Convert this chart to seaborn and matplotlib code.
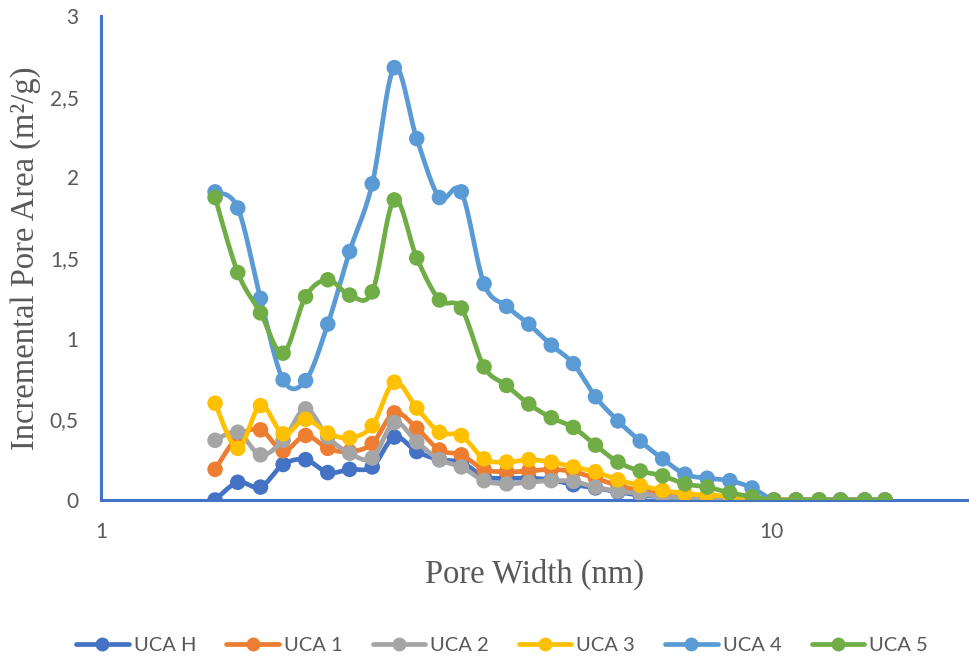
import numpy as np
import pandas as pd
import matplotlib
matplotlib.use("Agg")
import matplotlib.pyplot as plt
from matplotlib.lines import Line2D
from matplotlib.ticker import FuncFormatter, FixedLocator, NullLocator
import seaborn as sns

# Pore widths (nm)
pore_width = [1.48, 1.60, 1.73, 1.87, 2.02, 2.18, 2.35, 2.54, 2.74, 2.96,
              3.20, 3.45, 3.73, 4.03, 4.35, 4.70, 5.07, 5.47, 5.91, 6.38,
              6.89, 7.44, 8.03, 8.68, 9.37, 10.1, 10.9, 11.8, 12.7, 13.8, 14.8]

# Incremental pore area (m2/g) per sample
uca_h = [0.00, 0.11, 0.08, 0.22, 0.25, 0.17, 0.19, 0.205, 0.39, 0.30,
         0.25, 0.235, 0.145, 0.135, 0.135, 0.125, 0.095, 0.075, 0.05, 0.03,
         0.02, 0.01, 0.005, 0.0, 0.0, 0.0, 0.0, 0.0, 0.0, 0.0, 0.0]
uca_1 = [0.19, 0.39, 0.435, 0.305, 0.40, 0.32, 0.30, 0.35, 0.54, 0.445,
         0.31, 0.28, 0.19, 0.175, 0.18, 0.19, 0.175, 0.135, 0.09, 0.06,
         0.045, 0.03, 0.025, 0.02, 0.01, 0.0, 0.0, 0.0, 0.0, 0.0, 0.0]
uca_2 = [0.37, 0.42, 0.28, 0.37, 0.565, 0.39, 0.29, 0.26, 0.48, 0.36,
         0.25, 0.205, 0.12, 0.10, 0.11, 0.12, 0.115, 0.08, 0.055, 0.04,
         0.02, 0.015, 0.01, 0.005, 0.0, 0.0, 0.0, 0.0, 0.0, 0.0, 0.0]
uca_3 = [0.60, 0.32, 0.585, 0.41, 0.50, 0.415, 0.385, 0.46, 0.73, 0.57,
         0.42, 0.40, 0.255, 0.235, 0.25, 0.235, 0.205, 0.175, 0.125, 0.09,
         0.06, 0.04, 0.03, 0.025, 0.01, 0.0, 0.0, 0.0, 0.0, 0.0, 0.0]
uca_4 = [1.91, 1.81, 1.25, 0.745, 0.74, 1.09, 1.54, 1.96, 2.68, 2.24,
         1.875, 1.91, 1.34, 1.20, 1.09, 0.96, 0.845, 0.64, 0.49, 0.365,
         0.255, 0.16, 0.135, 0.12, 0.075, 0.0, 0.0, 0.0, 0.0, 0.0, 0.0]
uca_5 = [1.875, 1.41, 1.16, 0.91, 1.26, 1.365, 1.27, 1.29, 1.86, 1.50,
         1.24, 1.19, 0.825, 0.71, 0.595, 0.51, 0.45, 0.34, 0.235, 0.18,
         0.15, 0.10, 0.08, 0.045, 0.02, 0.0, 0.0, 0.0, 0.0, 0.0, 0.0]

series_names = ["UCA H", "UCA 1", "UCA 2", "UCA 3", "UCA 4", "UCA 5"]
series_values = [uca_h, uca_1, uca_2, uca_3, uca_4, uca_5]
series_colors = ["#4472C4", "#ED7D31", "#A5A5A5", "#FFC000", "#5B9BD5", "#70AD47"]

x_ticks = [1, 10]
y_ticks = [0, 0.5, 1, 1.5, 2, 2.5, 3]


def smooth_curve(xs, ys, steps=24):
    """Cubic Bezier smoothing through every point (log-x space)."""
    lx = np.log10(np.asarray(xs, dtype=float))
    y = np.asarray(ys, dtype=float)
    pts = np.column_stack([lx, y])
    n = len(pts)
    out = []
    t = np.linspace(0, 1, steps, endpoint=False)[:, None]
    for i in range(n - 1):
        p0 = pts[max(i - 1, 0)]
        p1 = pts[i]
        p2 = pts[i + 1]
        p3 = pts[min(i + 2, n - 1)]
        c1 = p1 + (p2 - p0) / 6.0
        c2 = p2 - (p3 - p1) / 6.0
        seg = ((1 - t) ** 3) * p1 + 3 * ((1 - t) ** 2) * t * c1 \
            + 3 * (1 - t) * t ** 2 * c2 + t ** 3 * p2
        out.append(seg)
    out.append(pts[-1][None, :])
    arr = np.vstack(out)
    return 10 ** arr[:, 0], arr[:, 1]


sns.set_theme(style="white")
plt.rcParams["font.family"] = ["Lato", "DejaVu Sans"]

fig = plt.figure(figsize=(9.69, 6.64), dpi=100)
ax = fig.add_axes([101 / 969, 1 - 500 / 664, 1 - 101 / 969, (500 - 16) / 664])

for i, (name, vals, col) in enumerate(zip(series_names, series_values, series_colors)):
    sx, sy = smooth_curve(pore_width, vals)
    curve = pd.DataFrame({"x": sx, "y": sy})
    sns.lineplot(data=curve, x="x", y="y", ax=ax, color=col, linewidth=3.4,
                 sort=False, estimator=None, zorder=3 + i, legend=False)
    pts = pd.DataFrame({"x": pore_width, "y": vals})
    sns.scatterplot(data=pts, x="x", y="y", ax=ax, color=col, s=125,
                    edgecolor="none", linewidth=0, zorder=3 + i, legend=False)

ax.set_xscale("log")
ax.set_xlim(1, 10 ** (868 / 670))
ax.set_ylim(0, 3)
ax.xaxis.set_major_locator(FixedLocator(x_ticks))
ax.xaxis.set_minor_locator(NullLocator())
ax.xaxis.set_major_formatter(FuncFormatter(lambda v, p: f"{v:g}"))
ax.yaxis.set_major_locator(FixedLocator(y_ticks))
ax.yaxis.set_major_formatter(FuncFormatter(lambda v, p: f"{v:g}".replace(".", ",")))
ax.tick_params(axis="both", length=0, labelsize=15, labelcolor="#595959")
ax.tick_params(axis="y", pad=16)
ax.tick_params(axis="x", pad=16)

for side in ["top", "right"]:
    ax.spines[side].set_visible(False)
for side in ["left", "bottom"]:
    ax.spines[side].set_color("#4472C4")
    ax.spines[side].set_linewidth(2.2)
    ax.spines[side].set_zorder(2)
ax.grid(False)

serif = ["Liberation Serif", "DejaVu Serif"]
ax.set_xlabel("Pore Width (nm)", family=serif, fontsize=23.5, color="#595959", labelpad=12)
ax.set_ylabel("Incremental Pore Area (m²/g)", family=serif, fontsize=23.5, color="#595959",
              labelpad=6)

handles = [Line2D([0], [0], color=c, linewidth=3.4, marker="o", markersize=10,
                  markeredgewidth=0) for c in series_colors]
fig.legend(handles, series_names, loc="center", bbox_to_anchor=(502 / 969, 1 - 645 / 664),
           ncol=6, frameon=False, fontsize=14.5, handlelength=2.6, columnspacing=1.5,
           handletextpad=0.25, labelcolor="#595959")

fig.savefig("out.png", dpi=100)
